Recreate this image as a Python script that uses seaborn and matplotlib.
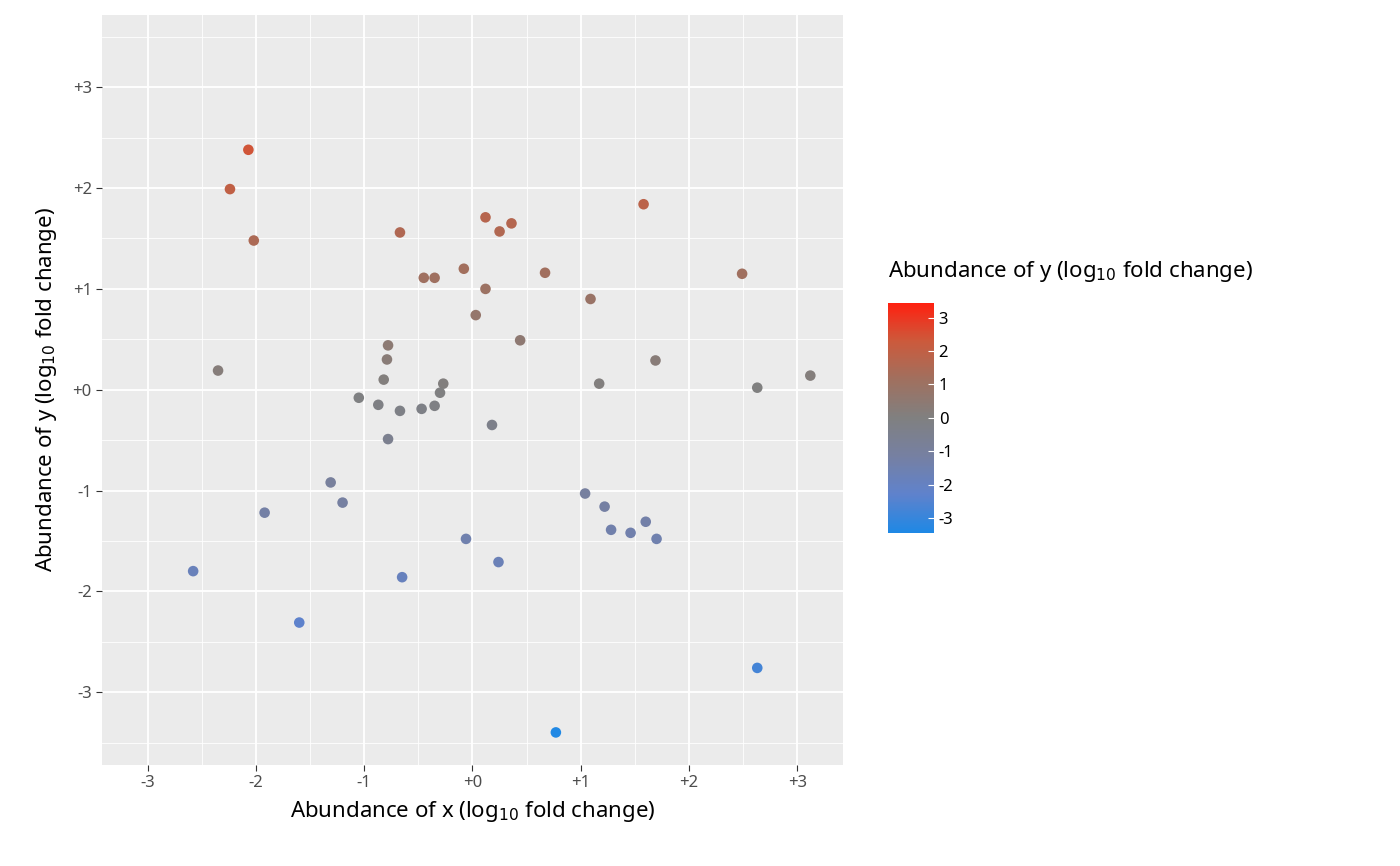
import numpy as np
import pandas as pd
import seaborn as sns
import matplotlib.pyplot as plt
from matplotlib.colors import LinearSegmentedColormap, Normalize
from matplotlib.ticker import MultipleLocator

x_vals = [-2.07, -2.24, -2.02, -0.67, 0.12, 0.25, 0.36, 1.58, -0.45, -0.35,
          -0.08, 0.12, 0.67, 1.09, 2.49, 0.03, 0.44, -0.78, -0.79, -0.82,
          -2.35, 1.69, 1.17, 2.63, 3.12, -0.27, -0.30, -1.05, -0.87, -0.67,
          -0.47, -0.35, -0.78, 0.18, -1.31, -1.20, -1.92, 1.04, 1.22, 1.60,
          1.28, 1.46, 1.70, -0.06, 0.24, -2.58, -0.65, -1.60, 2.63, 0.77]
y_vals = [2.38, 1.99, 1.48, 1.56, 1.71, 1.57, 1.65, 1.84, 1.11, 1.11,
          1.20, 1.00, 1.16, 0.90, 1.15, 0.74, 0.49, 0.44, 0.30, 0.10,
          0.19, 0.29, 0.06, 0.02, 0.14, 0.06, -0.03, -0.08, -0.15, -0.21,
          -0.19, -0.16, -0.49, -0.35, -0.92, -1.12, -1.22, -1.03, -1.16, -1.31,
          -1.39, -1.42, -1.48, -1.48, -1.71, -1.80, -1.86, -2.31, -2.76, -3.40]
ticks = [-3, -2, -1, 0, 1, 2, 3]
tick_labels = ["-3", "-2", "-1", "+0", "+1", "+2", "+3"]

df = pd.DataFrame({"x": x_vals, "y": y_vals})

plt.rcParams["font.family"] = ["Noto Sans", "DejaVu Sans"]
# approximates a Lab-space gradient blue -> grey -> red
cmap = LinearSegmentedColormap.from_list(
    "bgr", ["#1E88E5", "#5F82CC", "#7680A2", "#808080", "#A0705F", "#CC5A3C", "#FF2010"])
norm = Normalize(-3.45, 3.45)

fig = plt.figure(figsize=(14, 8.66), dpi=100)
ax = fig.add_axes([0.073, 0.117, 0.529, 0.866])
ax.set_facecolor("#EBEBEB")
sns.scatterplot(data=df, x="x", y="y", hue="y", palette=cmap, hue_norm=norm,
                s=58, edgecolor="none", legend=False, ax=ax, zorder=3)
ax.set_xlim(-3.42, 3.42)
ax.set_ylim(-3.72, 3.72)
ax.set_xticks(ticks)
ax.set_xticklabels(tick_labels)
ax.set_yticks(ticks)
ax.set_yticklabels(tick_labels)
ax.xaxis.set_minor_locator(MultipleLocator(0.5))
ax.yaxis.set_minor_locator(MultipleLocator(0.5))
ax.grid(which="major", color="white", linewidth=1.3, zorder=0)
ax.grid(which="minor", color="white", linewidth=0.6, zorder=0)
ax.set_axisbelow(True)
for s in ax.spines.values():
    s.set_visible(False)
ax.tick_params(which="major", length=4, color="#333333", labelsize=12, labelcolor="#4D4D4D")
ax.tick_params(which="minor", length=0)
ax.set_xlabel("Abundance of x (log$_{10}$ fold change)", fontsize=16, labelpad=6)
ax.set_ylabel("Abundance of y (log$_{10}$ fold change)", fontsize=16, labelpad=10)

cax = fig.add_axes([0.634, 0.3845, 0.033, 0.266])
cb = fig.colorbar(plt.cm.ScalarMappable(norm=norm, cmap=cmap), cax=cax)
cb.set_ticks(ticks)
cb.set_ticklabels([str(t) for t in ticks])
cb.outline.set_visible(False)
cax.tick_params(length=4, color="white", labelsize=12, direction="in")
fig.text(0.634, 0.68, "Abundance of y (log$_{10}$ fold change)", fontsize=16)

fig.savefig("out.png")
